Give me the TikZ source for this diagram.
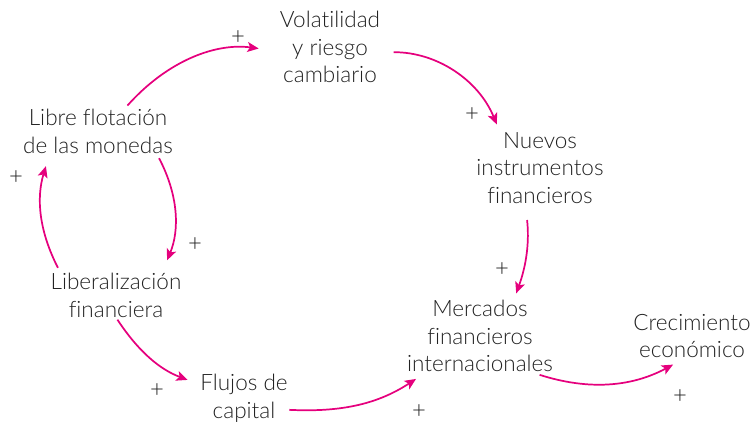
\documentclass[tikz,border=0pt]{standalone}
\usepackage{fontspec}
\setmainfont{Lato Light}[Ligatures=NoCommon]
\usetikzlibrary{arrows.meta}
\definecolor{rosa}{HTML}{E5007D}
\definecolor{texto}{HTML}{222222}

\begin{document}
\begin{tikzpicture}[x=0.0265cm, y=0.0265cm,
	box/.style={align=center, inner sep=0pt, text=texto, font=\fontsize{17}{21}\selectfont},
	sign/.style={inner sep=0pt, text=texto, font=\fontsize{18}{18}\selectfont},
	link/.style={draw=rosa, line width=1.3pt, -{Stealth[length=8.5pt, width=7.5pt, inset=2pt]}}]
	\useasboundingbox (0,0) rectangle (755,424);

	% variables
	\node[box] (vol) at (330,377) {Volatilidad\\y riesgo\\cambiario};
	\node[box] (libre) at (98,293) {Libre flotación\\de las monedas};
	\node[box] (nuevos) at (540,256) {Nuevos\\instrumentos\\financieros};
	\node[box] (liber) at (116,129) {Liberalización\\financiera};
	\node[box] (merc) at (480,88) {Mercados\\financieros\\internacionales};
	\node[box] (crec) at (692,88) {Crecimiento\\económico};
	\node[box] (flujos) at (244,26) {Flujos de\\capital};

	% relaciones
	\draw[link, shorten <=3pt, shorten >=16pt] (libre.40) to[bend left=28] (vol.185);
	\draw[link, shorten <=10pt, shorten >=6pt] (vol.354) to[bend left=34] (nuevos.138);
	\draw[link, shorten <=12pt, shorten >=5pt] (nuevos.248) to[bend left=13] (merc.47);
	\draw[link, shorten <=6pt, shorten >=10pt] (merc.-35) to[bend right=23] (crec.252);
	\draw[link, shorten <=1pt, shorten >=9pt] (flujos.-15) to[bend right=18] (merc.214);
	\draw[link, shorten <=2pt, shorten >=10pt] (liber.south) to[bend right=18] (flujos.163);
	\draw[link, shorten <=4pt, shorten >=10pt] (liber.158) to[bend left=22] (libre.205);
	\draw[link, shorten <=4pt, shorten >=10pt] (libre.-21) to[bend left=25] (liber.26);

	% signos
	\node[sign] (s1) at (238,386) {+};
	\node[sign] (s2) at (472,309) {+};
	\node[sign] (s3) at (502,154) {+};
	\node[sign] (s4) at (680,27) {+};
	\node[sign] (s5) at (419,12) {+};
	\node[sign] (s6) at (157,33) {+};
	\node[sign] (s7) at (16,246) {+};
	\node[sign] (s8) at (195,179) {+};
\end{tikzpicture}
\end{document}
